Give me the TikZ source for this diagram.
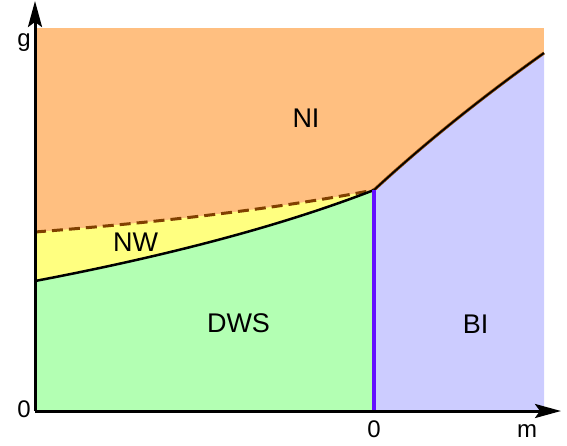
\documentclass[tikz,border=0pt]{standalone}
\usepackage{fontspec}
\setmainfont{Liberation Sans}
\usetikzlibrary{arrows.meta}
\definecolor{niorange}{HTML}{FFBF80}
\definecolor{nwyellow}{HTML}{FFFF80}
\definecolor{dwsgreen}{HTML}{B3FFB3}
\definecolor{bilav}{HTML}{CCCCFF}
\definecolor{brownline}{HTML}{804000}
\definecolor{purpleline}{HTML}{6410FF}
\begin{document}
\begin{tikzpicture}[x=1pt,y=-1pt,
  axisline/.style={line width=3pt,-{Stealth[length=26pt,width=14pt,inset=5pt]}},
  crossover/.style={brownline,line width=3pt,dash pattern=on 11pt off 6pt},
  phaseline/.style={black,line width=2.5pt},
  transition/.style={purpleline,line width=3.5pt},
  regionlabel/.style={font=\fontsize{27}{27}\selectfont,anchor=base,inner sep=0pt},
  axislabel/.style={font=\fontsize{24}{24}\selectfont,anchor=base,inner sep=0pt}]
\useasboundingbox (0,0) rectangle (567,445);
% key points
\coordinate (O) at (35,411);
\coordinate (TL) at (35,28);
\coordinate (R1) at (544,53);
\coordinate (J) at (374,190);
\coordinate (BR) at (544,411);
\coordinate (Z) at (374,411);
\coordinate (D0) at (35,232);
\coordinate (S0) at (35,281);
\coordinate (ytip) at (35,1);
\coordinate (xtip) at (561,411);
% regions
\fill[niorange] (TL) rectangle (BR);
\fill[nwyellow] (D0) .. controls (171.7,221.3) and (284.7,207.3) .. (J)
   .. controls (284.7,224.7) and (171.7,255) .. (S0) -- cycle;
\fill[dwsgreen] (S0) .. controls (171.7,255) and (284.7,224.7) .. (J) -- (Z) -- (O) -- cycle;
\fill[bilav] (J) .. controls (424.7,143.3) and (481.3,97.7) .. (R1) -- (BR) -- (Z) -- cycle;
% boundaries
\draw[crossover] (D0) .. controls (171.7,221.3) and (284.7,207.3) .. (J);
\draw[phaseline] (S0) .. controls (171.7,255) and (284.7,224.7) .. (J);
\draw[brownline,line width=3pt] (J) .. controls (424.7,143.3) and (481.3,97.7) .. (R1);
\draw[black,line width=1.5pt] (J) .. controls (424.7,143.3) and (481.3,97.7) .. (R1);
\draw[transition] (J) -- (Z);
% axes
\draw[axisline] (O) -- (ytip);
\draw[axisline] (O) -- (xtip);
% labels
\node[axislabel] (glab) at (24,46) {g};
\node[axislabel] (zlab) at (24,417) {0};
\node[axislabel] (zmlab) at (374,437) {0};
\node[axislabel] (mlab) at (527,437) {m};
\node[regionlabel] (ni) at (306,127) {NI};
\node[regionlabel] (nw) at (135.5,251) {NW};
\node[regionlabel] (dws) at (238.5,332) {DWS};
\node[regionlabel] (bi) at (475.5,333.5) {BI};
\end{tikzpicture}
\end{document}
